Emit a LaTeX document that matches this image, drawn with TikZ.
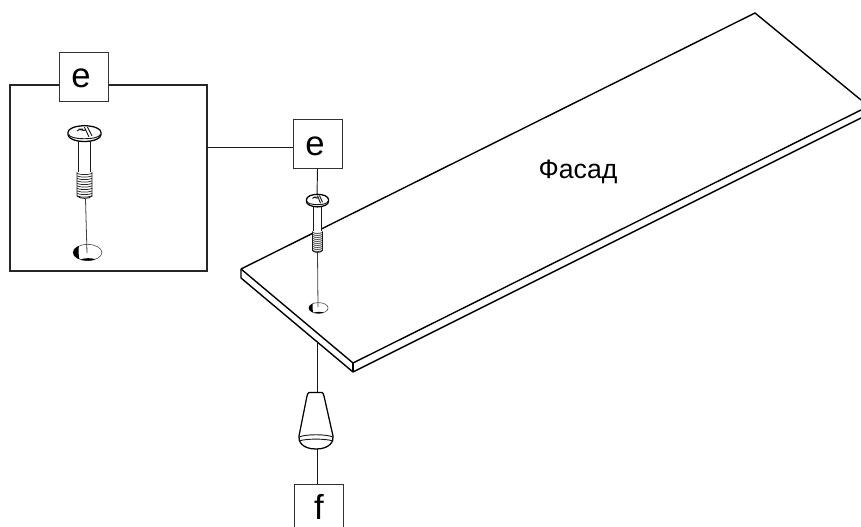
\documentclass[tikz,border=0pt]{standalone}
\usepackage{fontspec}
\setmainfont{Liberation Sans}
\tikzset{
  ln/.style={line width=0.95pt,black},
  thin ln/.style={line width=0.7pt,black!90},
  tag/.style={draw=black!80,line width=0.7pt,fill=white,minimum size=36.75pt,inner sep=0pt,font=\fontsize{26}{26}\selectfont},
  board/.style={line width=1.05pt,black,line join=round}
}
% screw drawn in local units: head centre at (0,0), head half-width 11 px
\newcommand{\myscrew}[4]{%
\begin{scope}[shift={(#1,#2)},xscale=#3,yscale=#4]
  \fill[white] (-4.7,5) rectangle (4.7,52);
  \draw[thin ln] (-4.3,5) -- (-4.3,31) (4.3,5) -- (4.3,31);
  \fill[white] (-5.2,31) rectangle (5.2,51);
  \foreach \yy in {32,34,...,50}{\draw[line width=0.55pt,black!85] (-5,\yy) .. controls (-2,\yy+1.2) and (2,\yy+1.2) .. (5,\yy);}
  \draw[thin ln] (-5,31) -- (-5,50) .. controls (-3,52.5) and (3,52.5) .. (5,50) -- (5,31);
  \draw[ln,fill=white] (-11,-1) -- (-11,1) arc[start angle=180,end angle=0,x radius=11,y radius=5.4] -- (11,-1) arc[start angle=0,end angle=-180,x radius=11,y radius=5.2] -- cycle;
  \draw[thin ln] (-10.5,0.8) arc[start angle=180,end angle=0,x radius=10.5,y radius=3.4];
  \draw[thin ln] (-5,-2) .. controls (-3,-5) and (-1,-1) .. (1,-3) (0,-5) -- (3,2.8) (2,-5) -- (5,1.8) (-4,-3.5) -- (-1,-3.5);
\end{scope}}
% hole drawn in local units
\newcommand{\myhole}[3]{%
\begin{scope}[shift={(#1,#2)},scale=#3]
  \draw[line width=0.45pt,black!70,fill=white] (0,0) ellipse[x radius=9.6,y radius=5.4];
  \begin{scope}
    \clip (0,0) ellipse[x radius=9.6,y radius=5.4];
    \fill[black] (-10,-6) -- (-5.5,-6) .. controls (-6.2,-2) and (-6.2,2) .. (-5,6) -- (-10,6) -- cycle;
    \fill[black] (-5,6) -- (-4,4.4) .. controls (-1,3.6) and (2,3.6) .. (5,4.4) -- (5,6) -- cycle;
  \end{scope}
\end{scope}}
\begin{document}
\begin{tikzpicture}[x=0.75pt,y=-0.75pt]
\useasboundingbox (0,0) rectangle (861,527);
% inset frame
\node[draw=black!85,line width=0.8pt,minimum width=147.75pt,minimum height=139.5pt,inner sep=0pt] (inset) at (108.5,178) {};
\node[tag] (e1) at (83.5,76.5) {};
\node[font=\fontsize{26}{26}\selectfont] (e1t) at (81,78) {e};
\node[tag] (e2) at (317.5,143.5) {};
\node[font=\fontsize{26}{26}\selectfont] (e2t) at (315,146) {e};
% board
\coordinate (bl) at (241,269);
\coordinate (bl2) at (241,278);
\coordinate (bf) at (353,363);
\coordinate (bf2) at (353,372);
\coordinate (bt) at (755,13);
\coordinate (br) at (861,100);
\coordinate (br1) at (861,110);
\coordinate (br2) at (861,118);
\draw[board] (bl) -- (bt) -- (br);
\draw[board] (bl) -- (bf) -- (br1);
\draw[board] (bl) -- (bl2) -- (bf2) -- (br2);
\draw[board] (bf) -- (bf2);
% connectors
\coordinate (head2) at (317,197);
\coordinate (hole2) at (318,307);
\coordinate (thr2) at (317.5,252);
\coordinate (head1) at (85.5,199);
\coordinate (hole1) at (87,253);
\coordinate (edge) at (317,342);
\coordinate (knobtop) at (317,392);
\coordinate (knobbot) at (317,449);
\coordinate (insetr) at (207,147);
\coordinate (e2l) at (293,147);
\draw[thin ln] (insetr) -- (e2l);
\draw[thin ln] (e2.south) -- (head2);
\draw[thin ln] (edge) -- (knobtop);
\node[tag,anchor=north] (f) at (318.5,484) {};
\node[font=\fontsize{26}{26}\selectfont] (ftext) at (319,507) {f};
\draw[thin ln] (knobbot) -- (knobbot |- f.north);
% main screw and hole
\myhole{318.5}{308}{1}
\draw[line width=0.6pt,black!75] (thr2) -- (hole2);
\myscrew{317.5}{200.5}{1}{1}
% inset screw and hole
\myhole{87.5}{252.5}{1.5}
\draw[line width=0.6pt,black!75] (head1) -- (hole1);
\myscrew{84.5}{133.5}{1.5}{1.25}
% knob
\draw[ln,fill=white,line join=round] (309,392.5) -- (322,392.5) .. controls (323,393) and (323.5,394) .. (324,396) -- (333,436) .. controls (334,441) and (330,449) .. (316,449) .. controls (302,449) and (298,441) .. (299,436) -- (307,396) .. controls (307.5,394) and (308,393) .. (309,392.5) -- cycle;
\draw[thin ln] (299,437) .. controls (306,434) and (326,434) .. (333,437);
\draw[thin ln] (299,441) .. controls (306,438.5) and (326,438.5) .. (333,441);
% label
\node[font=\fontsize{20}{20}\selectfont] (lab) at (578,172) {Фасад};
\end{tikzpicture}
\end{document}
